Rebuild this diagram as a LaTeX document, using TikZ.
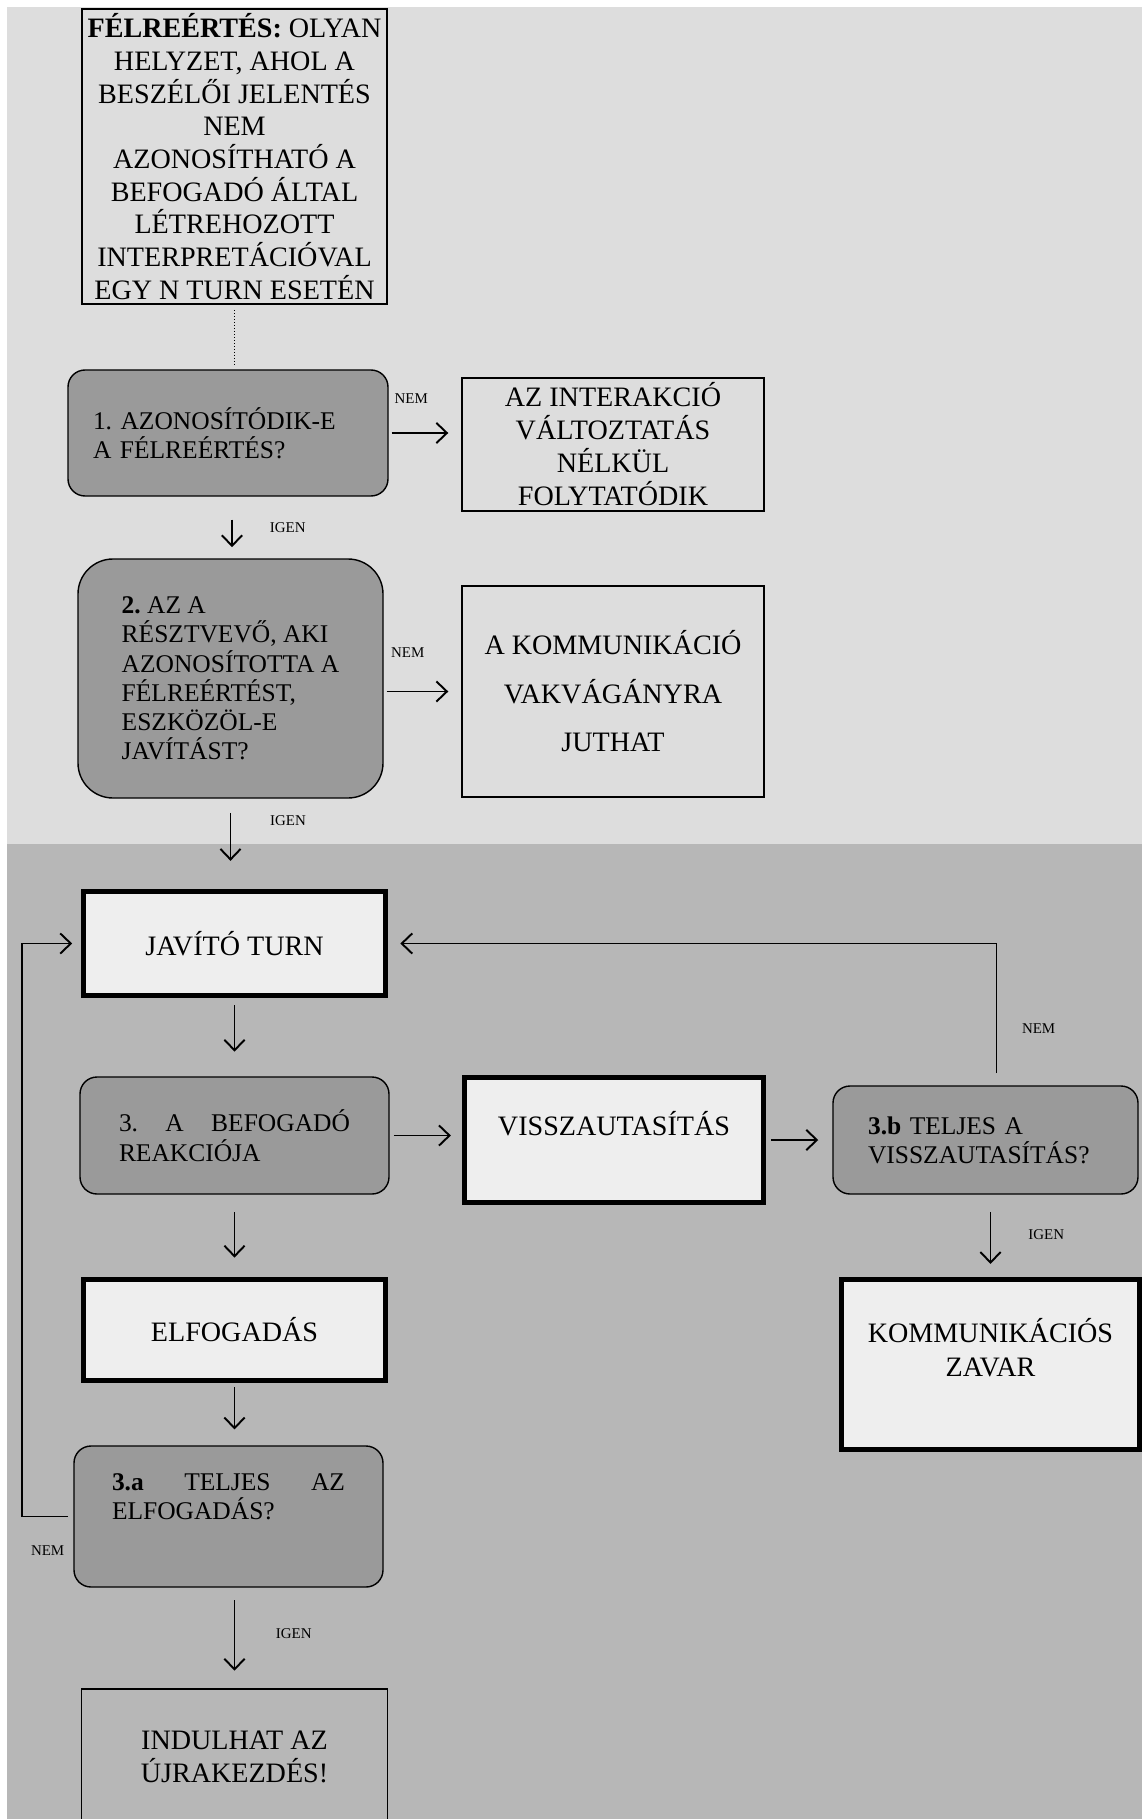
\documentclass[tikz,border=0pt]{standalone}
\usepackage{fontspec}
\setmainfont{Liberation Serif}
\usetikzlibrary{positioning, arrows.meta}
\definecolor{bgtop}{RGB}{221,221,221}
\definecolor{bgbottom}{RGB}{183,183,183}
\definecolor{askfill}{RGB}{154,154,154}
\definecolor{lightfill}{RGB}{238,238,238}
\frenchspacing
\tikzset{
    plain box/.style = {draw, line width=0.8pt, inner sep=1pt, align=center,
        font=\fontsize{16}{18.6}\selectfont},
    result box/.style = {plain box, line width=2.6pt, fill=lightfill},
    question/.style = {draw, line width=0.8pt, fill=askfill, rounded corners=0.34cm,
        align=left, inner sep=0pt, font=\fontsize{14.5}{16.6}\selectfont},
}
\tikzset{
    flow/.style = {draw, line width=1.1pt, -{Straight Barb[length=6pt, width=11.5pt]}},
    lbl/.style = {font=\fontsize{8.5}{10}\selectfont, inner sep=0pt},
}

\begin{document}
\begin{tikzpicture}[every node/.style=on grid]
            % background bands
            \fill[white] (0,0) rectangle (22.84,-36.38);
            \fill[bgtop] (0.14,-0.14) rectangle (22.84,-16.88);
            \fill[bgbottom] (0.14,-16.88) rectangle (22.84,-36.38);
            \useasboundingbox (0,0) rectangle (22.84,-36.38);

            \node (def) [plain box, minimum width=6.1cm, minimum height=5.9cm] at (4.69,-3.13)
                {\textbf{FÉLREÉRTÉS:} OLYAN\\HELYZET, AHOL A\\BESZÉLŐI JELENTÉS\\NEM\\AZONOSÍTHATÓ A\\BEFOGADÓ ÁLTAL\\LÉTREHOZOTT\\INTERPRETÁCIÓVAL\\EGY N TURN ESETÉN};
            \node (q1) [question, minimum width=6.4cm, minimum height=2.52cm, text width=5.4cm,
                below left=5.53cm and 0.13cm of def] {1. AZONOSÍTÓDIK-E\\A FÉLREÉRTÉS?};
            \node (nochange) [plain box, minimum width=6.04cm, minimum height=2.66cm,
                font=\fontsize{16}{18.8}\selectfont, below right=0.23cm and 7.7cm of q1]
                {AZ INTERAKCIÓ\\VÁLTOZTATÁS\\NÉLKÜL\\FOLYTATÓDIK};
            \node (q2) [question, rounded corners=0.7cm, minimum width=6.1cm, minimum height=4.78cm,
                below right=4.91cm and 0.05cm of q1]
                {\textbf{2.} AZ A\\RÉSZTVEVŐ, AKI\\AZONOSÍTOTTA A\\FÉLREÉRTÉST,\\ESZKÖZÖL-E\\JAVÍTÁST?};
            \node (deadend) [plain box, minimum width=6.04cm, minimum height=4.22cm,
                below right=0.26cm and 7.65cm of q2] {A KOMMUNIKÁCIÓ\\[9pt]VAKVÁGÁNYRA\\[9pt]JUTHAT};
            \node (javito) [result box, minimum width=6.05cm, minimum height=2.09cm,
                below right=5.3cm and 0.08cm of q2] {JAVÍTÓ TURN};
            \node (q3) [question, minimum width=6.18cm, minimum height=2.34cm, text width=4.62cm,
                font=\fontsize{14.5}{17}\selectfont, below=3.84cm of javito]
                {3.\hfill A\hfill BEFOGADÓ\\REAKCIÓJA};
            \node (reject) [result box, minimum width=5.99cm, minimum height=2.51cm,
                below right=0.09cm and 7.59cm of q3] {VISSZAUTASÍTÁS\\\mbox{}};
            \node (q3b) [question, minimum width=6.1cm, minimum height=2.16cm, text width=4.7cm,
                right=7.43cm of reject] {\textbf{3.b} TELJES A\\VISSZAUTASÍTÁS?};
            \node (zavar) [result box, minimum width=5.97cm, minimum height=3.41cm,
                font=\fontsize{16}{19.3}\selectfont, below right=4.49cm and 0.1cm of q3b]
                {KOMMUNIKÁCIÓS\\ZAVAR\\\mbox{}};
            \node (accept) [result box, minimum width=6.05cm, minimum height=2.03cm,
                below=3.89cm of q3] {ELFOGADÁS};
            \node (q3a) [question, minimum width=6.18cm, minimum height=2.82cm, text width=4.66cm,
                below left=3.73cm and 0.12cm of accept]
                {\textbf{3.a}\hfill TELJES\hfill AZ\\ELFOGADÁS?\\[6pt]\mbox{}};
            \node (restart) [plain box, minimum width=6.11cm, minimum height=2.7cm,
                font=\fontsize{16}{18.8}\selectfont, below right=4.8cm and 0.12cm of q3a]
                {INDULHAT AZ\\ÚJRAKEZDÉS!};
            \coordinate (back) at (0.44,0);

            \draw[densely dotted, line width=0.7pt, shorten <=3pt, shorten >=2pt]
                (def.south) -- (def.south |- q1.north);
            \draw[flow, shorten <=1.7pt, shorten >=7.4pt] (q1.east) -- (q1.east -| nochange.west)
                node[lbl, pos=0.31, above=16pt] {NEM};
            \draw[flow, shorten <=13pt, shorten >=6.3pt] ([xshift=0.08cm]q1.south) -- ([xshift=0.08cm]q1.south |- q2.north)
                node[lbl, pos=0.5, right=21pt] {IGEN};
            \draw[flow, shorten <=1.7pt, shorten >=7.4pt] (deadend.west -| q2.east) -- (deadend.west)
                node[lbl, pos=0.31, above=19pt] {NEM};
            \draw[flow, shorten <=8pt, shorten >=16pt] (q2.south) -- (q2.south |- javito.north)
                node[lbl, pos=0.24, right=22pt] {IGEN};
            \draw[flow, shorten <=4pt, shorten >=14pt] (javito) -- (q3);
            \draw[flow, shorten <=2.3pt, shorten >=6.3pt] (q3.east) -- (q3.east -| reject.west);
            \draw[flow, shorten <=3pt, shorten >=8pt] (reject.east) -- (reject.east -| q3b.west);
            \draw[flow, shorten <=7pt, shorten >=7pt] ([xshift=0.22cm]q3b.north) |- (javito.east)
                node[lbl, pos=0.2, right=14pt] {NEM};
            \draw[flow, shorten <=9.7pt, shorten >=7.4pt] ([xshift=0.1cm]q3b.south) -- ([xshift=0.1cm]q3b.south |- zavar.north)
                node[lbl, pos=0.48, right=21pt] {IGEN};
            \draw[flow, shorten <=10pt, shorten >=11pt] (q3) -- (accept);
            \draw[flow, shorten <=2.3pt, shorten >=9pt] (accept.south) -- (accept.south |- q3a.north);
            \draw[flow, shorten <=7pt, shorten >=10pt] (restart.north |- q3a.south) -- (restart.north)
                node[lbl, pos=0.46, right=23pt] {IGEN};
            \draw[flow, shorten <=3pt, shorten >=5pt] (q3a.west) -- node[lbl, below=16pt] {NEM}
                (q3a.west -| back) |- (javito.west);
        \end{tikzpicture}
\end{document}
